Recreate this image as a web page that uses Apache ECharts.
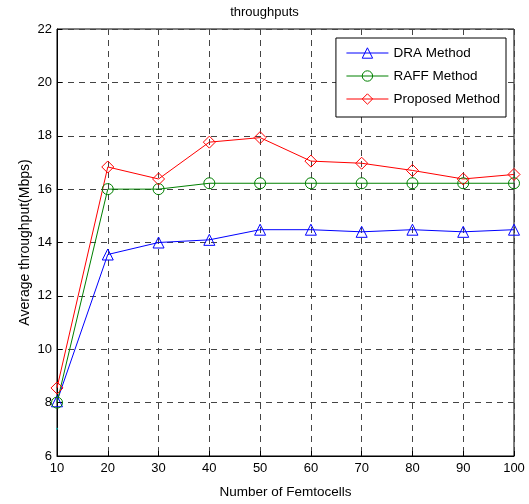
<!DOCTYPE html>
<html>
<head>
<meta charset="utf-8">
<script src="https://cdn.jsdelivr.net/npm/echarts@6/dist/echarts.min.js"></script>
<style>
html, body { margin: 0; padding: 0; background: #fff; }
#chart { width: 529px; height: 504px; }
</style>
</head>
<body>
<div id="chart"></div>
<script>
var femtocells = [10, 20, 30, 40, 50, 60, 70, 80, 90, 100];
var draMethod = [8.05, 13.55, 14.0, 14.1, 14.48, 14.48, 14.4, 14.48, 14.4, 14.48];
var raffMethod = [8.0, 16.0, 16.0, 16.22, 16.22, 16.22, 16.22, 16.22, 16.22, 16.22];
var proposedMethod = [8.55, 16.83, 16.38, 17.76, 17.93, 17.05, 16.97, 16.7, 16.38, 16.55];
var strayPoint = [[10, 7.02]];

function pairs(ys) {
    var res = [];
    for (var i = 0; i < femtocells.length; i++) {
        res.push([femtocells[i], ys[i]]);
    }
    return res;
}

// hollow marker, line shows through it like in the original plot
function lineSeries(name, ys, color, symbol, size) {
    return {
        name: name,
        type: 'line',
        data: pairs(ys),
        symbol: symbol,
        symbolSize: size,
        lineStyle: { width: 1, color: color },
        itemStyle: { color: 'rgba(255,255,255,0)', borderColor: color, borderWidth: 1 }
    };
}

var myChart = echarts.init(document.getElementById('chart'));
var font = 'Liberation Sans, Arial, sans-serif';

var option = {
    animation: false,
    backgroundColor: '#fff',
    title: {
        text: 'throughputs',
        left: 'center',
        top: 1,
        textStyle: { fontSize: 13, fontWeight: 'normal', color: '#000', fontFamily: font }
    },
    legend: {
        orient: 'vertical',
        right: 23,
        top: 38,
        padding: [8, 6, 11, 10],
        itemGap: 9,
        itemWidth: 42,
        itemHeight: 13,
        backgroundColor: '#fff',
        borderColor: '#000',
        borderWidth: 1,
        borderRadius: 0,
        lineStyle: { width: 1 },
        itemStyle: { borderWidth: 1 },
        textStyle: { fontSize: 13.5, color: '#000', fontFamily: font },
        data: ['DRA Method', 'RAFF Method', 'Proposed Method']
    },
    grid: {
        left: 57,
        right: 15,
        top: 29,
        bottom: 46,
        show: true,
        borderColor: '#000',
        borderWidth: 1
    },
    xAxis: {
        type: 'value',
        min: 10,
        max: 100,
        interval: 10,
        name: 'Number of Femtocells',
        nameLocation: 'middle',
        nameGap: 29,
        nameMoveOverlap: false,
        nameTextStyle: { fontSize: 13.5, color: '#000', fontFamily: font },
        axisLine: { lineStyle: { color: '#000' } },
        axisTick: { inside: true, length: 5, lineStyle: { color: '#000' } },
        axisLabel: { fontSize: 13, color: '#000', fontFamily: font, margin: 6 },
        splitLine: { show: true, lineStyle: { color: '#444', type: [6, 5] } }
    },
    yAxis: {
        type: 'value',
        min: 6,
        max: 22,
        interval: 2,
        name: 'Average throughput(Mbps)',
        nameLocation: 'middle',
        nameGap: 25,
        nameMoveOverlap: false,
        nameTextStyle: { fontSize: 14, color: '#000', fontFamily: font },
        axisLine: { show: true, lineStyle: { color: '#000' } },
        axisTick: { show: true, inside: true, length: 5, lineStyle: { color: '#000' } },
        axisLabel: { fontSize: 13, color: '#000', fontFamily: font, margin: 5 },
        splitLine: { show: true, lineStyle: { color: '#444', type: [6, 5] } }
    },
    series: [
        lineSeries('DRA Method', draMethod, '#0000ff', 'triangle', 11),
        lineSeries('RAFF Method', raffMethod, '#008000', 'circle', 11),
        lineSeries('Proposed Method', proposedMethod, '#ff0000', 'diamond', 12),
        {
            name: 'stray',
            type: 'scatter',
            data: strayPoint,
            itemStyle: { color: '#00bfbf' },
            symbolSize: 2
        }
    ]
};

myChart.setOption(option);
</script>
</body>
</html>
